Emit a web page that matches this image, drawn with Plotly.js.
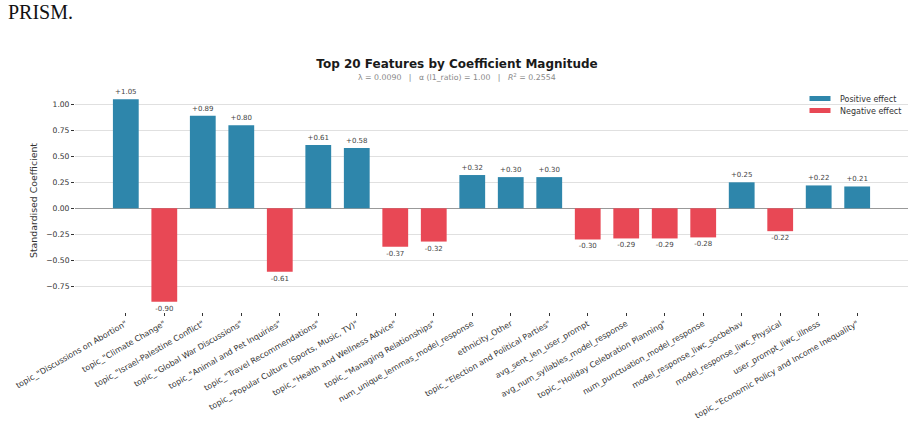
<!DOCTYPE html>
<html>
<head>
<meta charset="utf-8">
<script src="https://cdn.plot.ly/plotly-3.0.1.min.js"></script>
<style>
html,body{margin:0;padding:0;background:#fff;}
#chart{width:914px;height:439px;}
</style>
</head>
<body>
<div id="chart"></div>
<script>
const features = [
  'topic_"Discussions on Abortion"',
  'topic_"Climate Change"',
  'topic_"Israel-Palestine Conflict"',
  'topic_"Global War Discussions"',
  'topic_"Animal and Pet Inquiries"',
  'topic_"Travel Recommendations"',
  'topic_"Popular Culture (Sports, Music, TV)"',
  'topic_"Health and Wellness Advice"',
  'topic_"Managing Relationships"',
  'num_unique_lemmas_model_response',
  'ethnicity_Other',
  'topic_"Election and Political Parties"',
  'avg_sent_len_user_prompt',
  'avg_num_syllables_model_response',
  'topic_"Holiday Celebration Planning"',
  'num_punctuation_model_response',
  'model_response_liwc_socbehav',
  'model_response_liwc_Physical',
  'user_prompt_liwc_illness',
  'topic_"Economic Policy and Income Inequality"'
];
const coefficients = [1.05, -0.90, 0.89, 0.80, -0.61, 0.61, 0.58, -0.37, -0.32, 0.32,
                      0.30, 0.30, -0.30, -0.29, -0.29, -0.28, 0.25, -0.22, 0.22, 0.21];
const yTicks = [-0.75, -0.5, -0.25, 0, 0.25, 0.5, 0.75, 1.0];
const legendNames = ['Positive effect', 'Negative effect'];

const BLUE = '#2E86AB', RED = '#E84855';
const idx = features.map((_, i) => i);
const posIdx = idx.filter(i => coefficients[i] > 0);
const negIdx = idx.filter(i => coefficients[i] < 0);
const fmt = v => (v > 0 ? '+' : '-') + Math.abs(v).toFixed(2);

const common = {
  type: 'bar', width: 0.67, textposition: 'outside', cliponaxis: false,
  textfont: {family: 'DejaVu Sans', size: 7, color: '#444'}, hoverinfo: 'skip', showlegend: false
};
const traces = [
  Object.assign({}, common, {x: posIdx, y: posIdx.map(i => coefficients[i]), marker: {color: BLUE},
    text: posIdx.map(i => fmt(coefficients[i]))}),
  Object.assign({}, common, {x: negIdx, y: negIdx.map(i => coefficients[i]), marker: {color: RED},
    text: negIdx.map(i => fmt(coefficients[i]))}),
  // legend entries (patch-like markers)
  {type: 'scatter', mode: 'markers', x: [null], y: [null], name: legendNames[0], legend: 'legend',
   marker: {symbol: 'line-ew', size: 15, color: BLUE, line: {width: 7, color: BLUE}}, hoverinfo: 'skip'},
  {type: 'scatter', mode: 'markers', x: [null], y: [null], name: legendNames[1], legend: 'legend2',
   marker: {symbol: 'line-ew', size: 15, color: RED, line: {width: 7, color: RED}}, hoverinfo: 'skip'}
];

const PT = 89, PH = 223, PL = 75, PW = 833;
const px2x = p => (p - PL) / PW;
const px2y = p => (PT + PH - p) / PH;

const legendCommon = {xanchor: 'left', yanchor: 'top', bgcolor: 'rgba(0,0,0,0)',
  font: {family: 'DejaVu Sans', size: 8, color: '#333'}, itemwidth: 30};

const layout = {
  width: 914, height: 439,
  margin: {l: PL, r: 914 - PL - PW, t: PT, b: 439 - PT - PH},
  paper_bgcolor: '#fff', plot_bgcolor: '#fff',
  barmode: 'overlay',
  font: {family: 'DejaVu Sans', color: '#333'},
  title: {text: '<b>Top 20 Features by Coefficient Magnitude</b>',
    font: {family: 'DejaVu Sans', size: 12, color: '#1a1a1a'},
    x: 0.5, xref: 'container', y: 1 - 64/439, yref: 'container', yanchor: 'middle'},
  xaxis: {
    range: [-1.32, 20.32], tickmode: 'array', tickvals: idx, ticktext: features,
    tickangle: -30, ticks: 'outside', ticklen: 3, tickcolor: '#333', tickwidth: 1,
    tickfont: {family: 'DejaVu Sans', size: 8, color: '#333'},
    showgrid: false, zeroline: false, showline: false, automargin: false
  },
  yaxis: {
    range: [-0.9975, 1.1475], tickmode: 'array', tickvals: yTicks,
    tickformat: '.2f', ticks: 'outside', ticklen: 3, tickcolor: '#333',
    tickfont: {family: 'DejaVu Sans', size: 7.6, color: '#333'},
    showgrid: true, gridcolor: '#e0e0e0', gridwidth: 1,
    zeroline: true, zerolinecolor: '#999', zerolinewidth: 1,
    showline: false, automargin: false,
    title: {text: 'Standardised Coefficient', font: {family: 'DejaVu Sans', size: 9.4, color: '#333'}, standoff: 6}
  },
  legend: Object.assign({x: px2x(800), y: px2y(84)}, legendCommon),
  legend2: Object.assign({x: px2x(800), y: px2y(96)}, legendCommon),
  showlegend: true,
  annotations: [
    {text: 'λ = 0.0090   |   α (l1_ratio) = 1.00   |   <i>R</i><sup>2</sup> = 0.2554',
     xref: 'paper', yref: 'paper', x: px2x(457), y: px2y(77), showarrow: false,
     font: {family: 'DejaVu Sans', size: 7.8, color: '#888'}, xanchor: 'center', yanchor: 'middle'},
    {text: 'PRISM.', xref: 'paper', yref: 'paper', x: px2x(6), xanchor: 'left',
     y: px2y(12), yanchor: 'middle', showarrow: false,
     font: {family: 'Liberation Serif', size: 20, color: '#111'}}
  ]
};

Plotly.newPlot('chart', traces, layout, {staticPlot: true, displayModeBar: false});
</script>
</body>
</html>
